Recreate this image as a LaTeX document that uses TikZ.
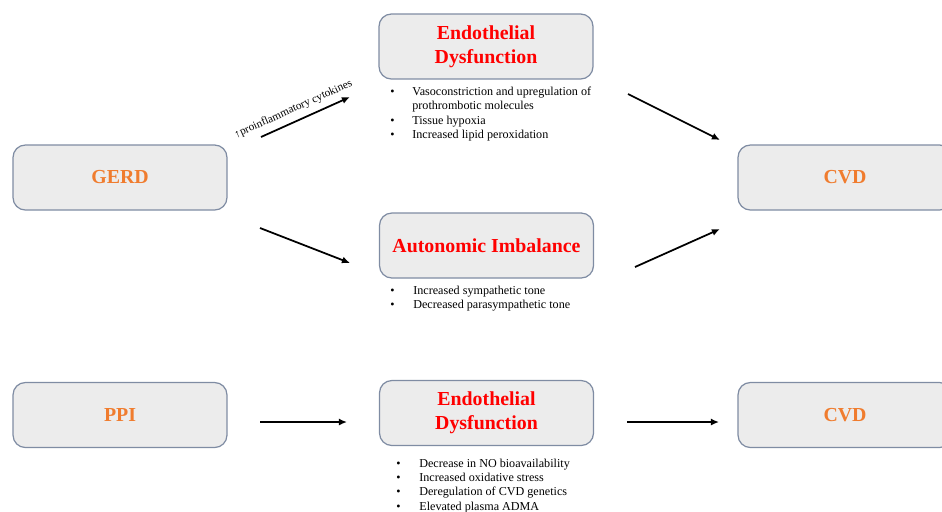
\documentclass[tikz,border=0pt]{standalone}
\usepackage{fontspec}
\setmainfont{Liberation Serif}
\usepackage{xcolor}
\usetikzlibrary{calc, positioning, arrows.meta}

\definecolor{boxline}{HTML}{7F8CA3}
\definecolor{boxfill}{HTML}{ECECEC}
\definecolor{titleorange}{HTML}{F07C2E}

\tikzset{
    box/.style={draw=boxline, fill=boxfill, line width=0.7pt,
        rounded corners=7pt, minimum width=4.28cm, minimum height=1.3cm,
        align=center, inner sep=0pt},
    redbox/.style={box, text=red,
        font=\bfseries\fontsize{11.3}{13.6}\selectfont},
    orangebox/.style={box, text=titleorange,
        font=\bfseries\fontsize{11.3}{13.6}\selectfont},
    bullets/.style={anchor=base west, inner sep=0pt,
        font=\fontsize{6.9}{8.2}\selectfont},
    link/.style={-{Latex[length=4.6pt, width=4pt]}, line width=1pt},
}

\begin{document}
\begin{tikzpicture}[x=0.02cm, y=-0.02cm]

    % 0. Khung hình
    \useasboundingbox (0,0) rectangle (942,511);
    \clip (0,0) rectangle (942,511);

    % 1. Các hộp
    \node[orangebox] (gerd) at (120,177.5) {GERD};
    \node[redbox] (ed1) at (486,46.5) {Endothelial\\Dysfunction};
    \node[redbox] (ai) at (486.5,245.5) {Autonomic Imbalance};
    \node[orangebox] (cvd1) at (845,177.5) {CVD};

    \node[orangebox] (ppi) at (120,415) {PPI};
    \node[redbox] (ed2) at (486.5,413) {Endothelial\\Dysfunction};
    \node[orangebox] (cvd2) at (845,415) {CVD};

    % 2. Danh sách dưới các hộp
    \node[bullets] (ed1list) at (390,95.5) {%
        \begin{tabular}[t]{@{}p{0.44cm}@{}l@{}}
            \textbullet & Vasoconstriction and upregulation of\\
                        & prothrombotic molecules\\
            \textbullet & Tissue hypoxia\\
            \textbullet & Increased lipid peroxidation
        \end{tabular}};

    \node[bullets] (ailist) at (390,294) {%
        \begin{tabular}[t]{@{}p{0.46cm}@{}l@{}}
            \textbullet & Increased sympathetic tone\\
            \textbullet & Decreased parasympathetic tone
        \end{tabular}};

    \node[bullets] (ed2list) at (396,467) {%
        \begin{tabular}[t]{@{}p{0.46cm}@{}l@{}}
            \textbullet & Decrease in NO bioavailability\\
            \textbullet & Increased oxidative stress\\
            \textbullet & Deregulation of CVD genetics\\
            \textbullet & Elevated plasma ADMA
        \end{tabular}};

    % 3. Đầu mút các mũi tên
    \coordinate (gerd-up) at (261,137);
    \coordinate (ed1-in) at (350,97);
    \coordinate (gerd-down) at (260,228);
    \coordinate (ai-in) at (350,263);
    \coordinate (ed1-out) at (628,94);
    \coordinate (cvd1-top) at (720,140);
    \coordinate (ai-out) at (635,267);
    \coordinate (cvd1-bot) at (720,229);
    \coordinate (ppi-out) at (260,422);
    \coordinate (ed2-in) at (347,422);
    \coordinate (ed2-out) at (627,422);
    \coordinate (cvd2-in) at (719,422);

    % 4. Mũi tên
    \draw[link] (gerd-up) -- (ed1-in)
        node[pos=0.42, above=0pt, sloped,
            font=\fontsize{6.4}{7}\selectfont] {↑proinflammatory cytokines};
    \draw[link] (gerd-down) -- (ai-in);
    \draw[link] (ed1-out) -- (cvd1-top);
    \draw[link] (ai-out) -- (cvd1-bot);
    \draw[link] (ppi-out) -- (ed2-in);
    \draw[link] (ed2-out) -- (cvd2-in);

\end{tikzpicture}
\end{document}
